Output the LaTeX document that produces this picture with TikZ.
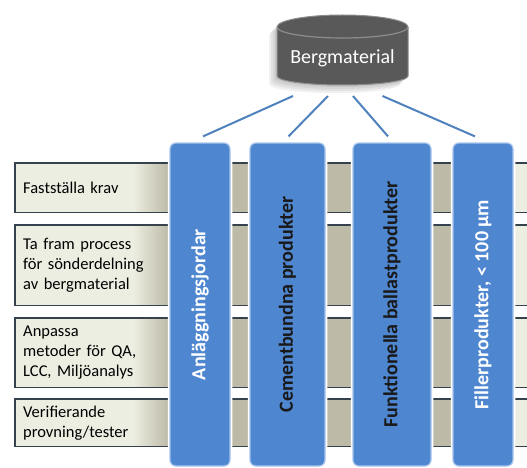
\documentclass[tikz,border=0pt]{standalone}
\usepackage{fontspec}
\setmainfont{Carlito}
\usetikzlibrary{calc,backgrounds}

\definecolor{rowfill}{HTML}{EDEEE2}
\definecolor{rowshade}{HTML}{BDBBA8}
\definecolor{rowline}{HTML}{35414D}
\definecolor{colfill}{HTML}{4E86D0}
\definecolor{colrim}{HTML}{A6C4EC}
\definecolor{cylfill}{HTML}{595959}
\definecolor{cylrim}{HTML}{8C8C8C}
\definecolor{linkblue}{HTML}{4F81BD}

\tikzset{
  task/.style={anchor=north west, minimum width=530pt, text width=514pt,
    inner xsep=8pt, inner ysep=0pt, align=left,
    font=\fontsize{16.5}{20}\selectfont},
  rowedge/.style={draw=rowline, line width=1.5pt},
  product/.style={rotate=90, minimum width=323pt, minimum height=#1,
    rounded corners=6pt, fill=colfill, draw=colrim, line width=1.2pt,
    preaction={draw=white, line width=4.5pt},
    font=\bfseries\fontsize{20}{24}\selectfont},
  link/.style={draw=linkblue, line width=2pt}
}

\begin{document}
\begin{tikzpicture}[x=1pt,y=-1pt]
  \clip (0,0) rectangle (527,468);

  % process steps
  \node[task, minimum height=49pt] (krav) at (15,163) {Fastställa krav};
  \node[task, minimum height=80pt] (process) at (15,225) {Ta fram process\\för sönderdelning\\av bergmaterial};
  \node[task, minimum height=69pt] (metod) at (15,318) {Anpassa\\metoder för QA,\\LCC, Miljöanalys};
  \node[task, minimum height=47pt] (prov) at (15,399) {Verifierande\\provning/tester};

  \begin{pgfonlayer}{background}
    \foreach \r in {krav,process,metod,prov} {
      \fill[rowfill] (\r.north west) rectangle (\r.south east);
      \shade[left color=rowfill, right color=rowshade] ($(\r.north west)+(118,0)$) rectangle ($(\r.south west)+(153,0)$);
      \fill[rowshade] ($(\r.north west)+(153,0)$) rectangle ($(\r.south west)+(498,0)$);
    }
  \end{pgfonlayer}
  \foreach \r in {krav,process,metod,prov}
    \draw[rowedge] (\r.north east) -- (\r.north west) -- (\r.south west) -- (\r.south east);

  % product groups
  \node[product=60pt, text=white] (col1) at (200,304.5) {Anläggningsjordar};
  \node[product=75pt, text=black!90] (col2) at (287.5,304.5) {Cementbundna produkter};
  \node[product=78pt, text=black!90] (col3) at (392,304.5) {Funktionella ballastprodukter};
  \node[product=60pt, text=white] (col4) at (483,304.5) {Fillerprodukter, < 100 µm};

  % raw material
  \foreach \s in {8,6,4,2}
    \fill[black, opacity=.06, shift={(-\s,\s)}] (277,27) -- (277,76) arc[start angle=180, end angle=360, x radius=65.5pt, y radius=9pt] -- (408,27) arc[start angle=0, end angle=180, x radius=65.5pt, y radius=12pt] -- cycle;
  \filldraw[fill=cylfill, draw=cylrim, line width=1pt] (277,27) -- (277,76) arc[start angle=180, end angle=360, x radius=65.5pt, y radius=9pt] -- (408,27) arc[start angle=0, end angle=180, x radius=65.5pt, y radius=12pt] -- cycle;
  \draw[cylrim, line width=1.2pt] (277,27) arc[start angle=180, end angle=360, x radius=65.5pt, y radius=11pt];
  \node[text=white, font=\fontsize{20}{24}\selectfont] (berg) at (342.5,58) {Bergmaterial};

  \draw[link] ([xshift=-49.5pt,yshift=-38pt]berg.center) -- ([xshift=3pt,yshift=6pt]col1.east);
  \draw[link] ([xshift=-14.5pt,yshift=-38pt]berg.center) -- ([xshift=1pt,yshift=6pt]col2.east);
  \draw[link] ([xshift=10.5pt,yshift=-38pt]berg.center) -- ([xshift=-4pt,yshift=6pt]col3.east);
  \draw[link] ([xshift=40pt,yshift=-38pt]berg.center) -- ([xshift=-8pt,yshift=6pt]col4.east);
\end{tikzpicture}
\end{document}
